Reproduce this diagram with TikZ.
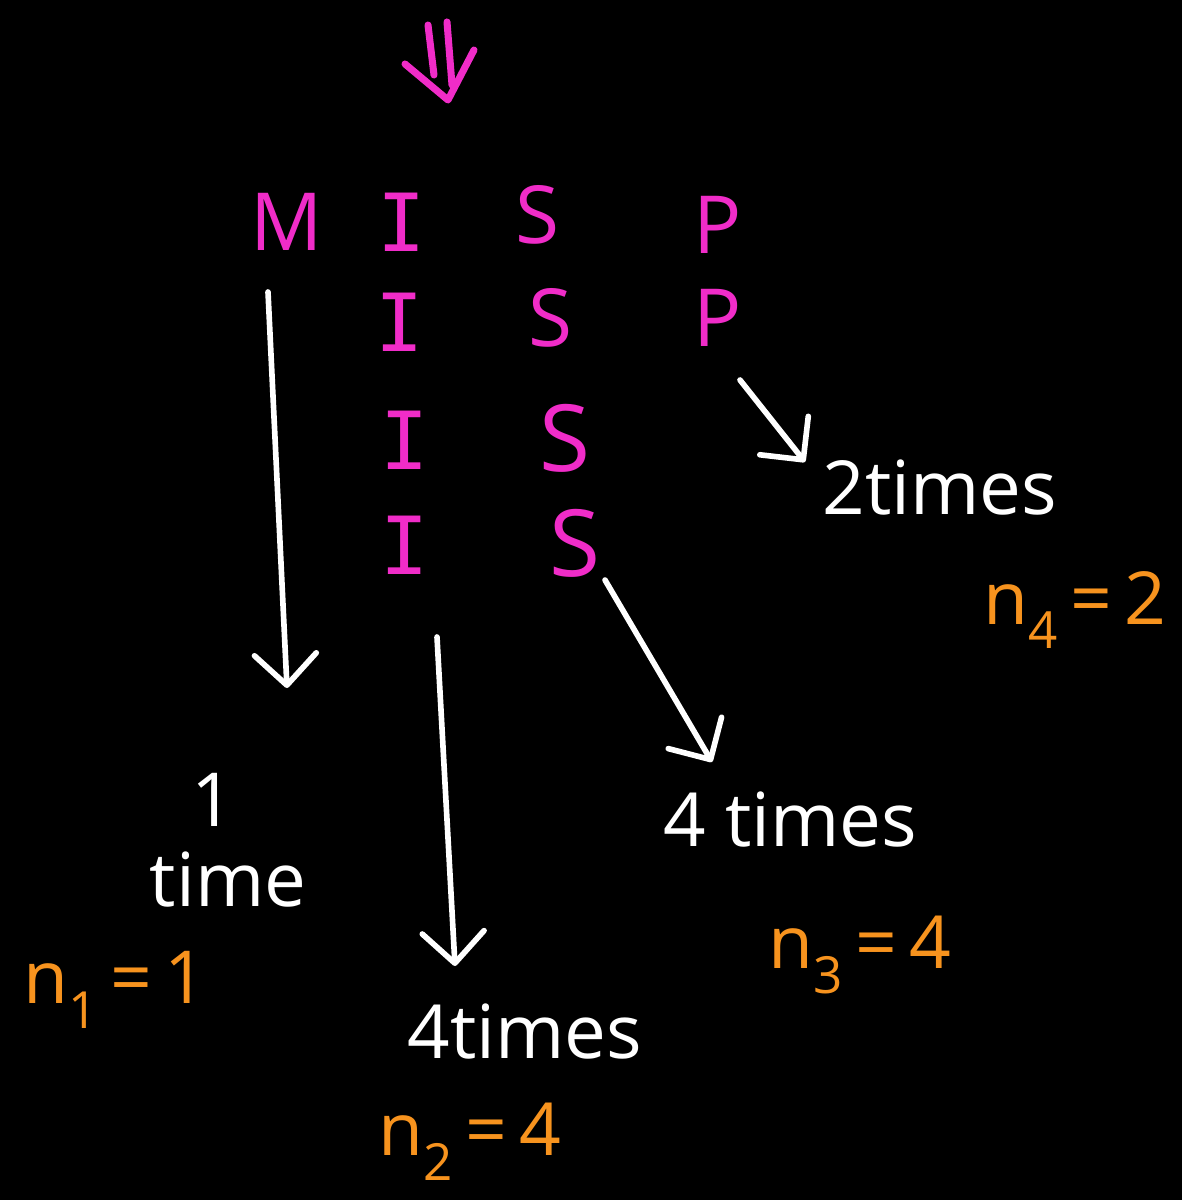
\documentclass[tikz,border=0pt]{standalone}
\usepackage{fontspec}
\setmainfont{Open Sans}
\newfontfamily\monoI{DejaVu Sans Mono}
\usetikzlibrary{arrows.meta}
\definecolor{pinkc}{HTML}{F02CC8}
\definecolor{orangec}{HTML}{F7931E}
\newcommand{\nsub}[2]{n\textsubscript{#1}\,=\,#2}
\tikzset{
  letter/.style={text=pinkc, inner sep=0pt, font=\fontsize{57}{62}\selectfont},
  iletter/.style={text=pinkc, inner sep=0pt, font=\monoI\fontsize{57}{62}\selectfont},
  wtext/.style={text=white, inner sep=0pt, font=\fontsize{53}{58}\selectfont},
  otext/.style={text=orangec, inner sep=0pt, font=\fontsize{52}{56}\selectfont},
  warrow/.style={draw=white, line width=4pt, line cap=round,
     -{Straight Barb[length=22pt, width=44pt, line width=4pt, round]}},
  parrow/.style={draw=pinkc, line width=5pt, line cap=round},
}
\begin{document}
\begin{tikzpicture}[x=0.025cm,y=-0.025cm]
\fill[black] (0,0) rectangle (1182,1200);
\useasboundingbox (0,0) rectangle (1182,1200);
% top double arrow
\coordinate (t1a) at (428,25); \coordinate (t1b) at (434,75);
\coordinate (t2a) at (447,22); \coordinate (t2b) at (452,85);
\coordinate (ha) at (405,64); \coordinate (hb) at (448,100); \coordinate (hc) at (474,50);
\draw[parrow] (t1a) -- (t1b);
\draw[parrow] (t2a) -- (t2b);
\draw[parrow, line join=round] (ha) -- (hb) -- (hc);
% letters
\node[letter] (M) at (287,222) {M};
\node[iletter] (I1) at (402,222) {I};
\node[letter] (S1) at (537,215) {S};
\node[letter] (P1) at (718,225) {P};
\node[iletter] (I2) at (400,322) {I};
\node[letter] (S2) at (550,318) {S};
\node[letter] (P2) at (718,318) {P};
\node[iletter] (I3) at (405,440) {I};
\node[letter, font=\fontsize{66}{70}\selectfont] (S3) at (565,438) {S};
\node[iletter] (I4) at (405,545) {I};
\node[letter, font=\fontsize{66}{70}\selectfont] (S4) at (575,543) {S};
% white texts
\node[wtext] (one) at (213,800) {1};
\node[wtext] (time) at (228,880) {time};
\node[wtext] (fourA) at (525,1032) {4times};
\node[wtext] (fourB) at (790,820) {4 times};
\node[wtext] (two) at (940,488) {2times};
% orange
\node[otext] (n1) at (115,990) {\nsub{1}{1}};
\node[otext] (n2) at (470,1142) {\nsub{2}{4}};
\node[otext] (n3) at (860,955) {\nsub{3}{4}};
\node[otext] (n4) at (1075,610) {\nsub{4}{2}};
% arrows
\coordinate (aM) at (268,292); \coordinate (eM) at (287,688);
\coordinate (aI) at (437,637); \coordinate (eI) at (455,966);
\coordinate (aS) at (605,580); \coordinate (eS) at (712,762);
\coordinate (aP) at (740,380); \coordinate (eP) at (805,462);
\draw[warrow] (aM) -- (eM);
\draw[warrow] (aI) -- (eI);
\draw[warrow] (aS) -- (eS);
\draw[warrow] (aP) -- (eP);
\end{tikzpicture}
\end{document}
